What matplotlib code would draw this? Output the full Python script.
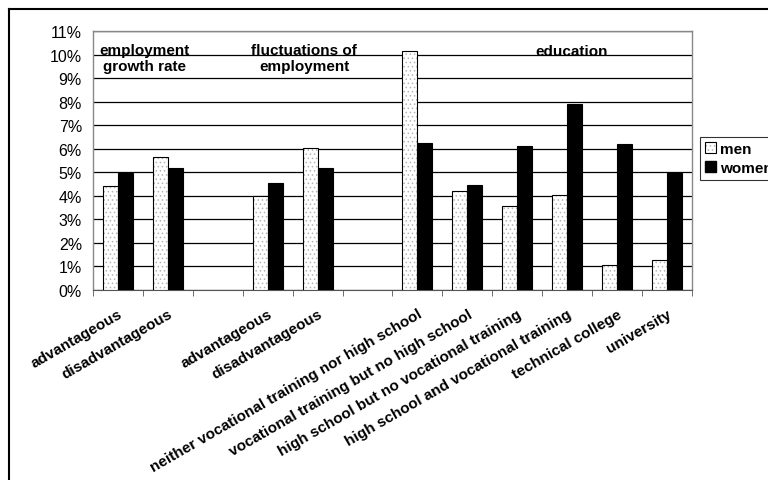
import matplotlib
matplotlib.use("Agg")
import matplotlib.pyplot as plt
import numpy as np
from matplotlib.patches import Rectangle
from matplotlib.lines import Line2D
from matplotlib.ticker import FixedLocator, PercentFormatter

plt.rcParams['font.family'] = ['Liberation Sans', 'DejaVu Sans']
plt.rcParams['hatch.linewidth'] = 0.6

categories = ["advantageous", "disadvantageous", "",
              "advantageous", "disadvantageous", "",
              "neither vocational training nor high school",
              "vocational training but no high school",
              "high school but no vocational training",
              "high school and vocational training",
              "technical college", "university"]
men = [4.40, 5.66, np.nan, 4.00, 6.01, np.nan, 10.15, 4.21, 3.55, 4.03, 1.08, 1.26]
women = [4.95, 5.18, np.nan, 4.54, 5.18, np.nan, 6.24, 4.46, 6.11, 7.92, 6.21, 4.99]
yticks = list(range(0, 12))
group_labels = ["employment\ngrowth rate", "fluctuations of\nemployment", "education"]

W, H = 768, 481
fig = plt.figure(figsize=(W / 100, H / 100), dpi=100)
ax = fig.add_axes([93 / W, 1 - 291 / H, (692 - 93) / W, (291 - 32) / H])

x = np.arange(len(categories))
bw = 0.3
# men: dotted fill, then black outline
ax.bar(x - bw / 2, men, bw, color='white', edgecolor='#b4b4b4', hatch='....', linewidth=0, zorder=3)
ax.bar(x - bw / 2, men, bw, fill=False, edgecolor='black', linewidth=0.8, zorder=4)
ax.bar(x + bw / 2, women, bw, color='black', edgecolor='black', linewidth=0.8, zorder=3)

ax.set_xlim(-0.5, len(categories) - 0.5)
ax.set_ylim(0, 11)
ax.yaxis.set_major_locator(FixedLocator(yticks))
ax.yaxis.set_major_formatter(PercentFormatter(decimals=0))
ax.tick_params(axis='y', length=0, labelsize=11.5, pad=8)
ax.grid(axis='y', color='black', linewidth=0.9, zorder=1)

ax.set_xticks(x)
ax.set_xticklabels(categories, rotation=30, ha='right', rotation_mode='anchor',
                   fontsize=11, fontweight='bold')
ax.tick_params(axis='x', which='major', length=0, pad=12)
ax.set_xticks(np.arange(-0.5, len(categories)), minor=True)
ax.tick_params(axis='x', which='minor', length=4, color='#555555', direction='out')

for s in ['left', 'top', 'right']:
    ax.spines[s].set_color('#888888')
    ax.spines[s].set_linewidth(1.0)
ax.spines['bottom'].set_color('#555555')

# group titles
ax.text(0.54, 9.87, group_labels[0], ha='center', va='center', fontsize=11,
        fontweight='bold', linespacing=1.2, zorder=5)
ax.text(3.73, 9.87, group_labels[1], ha='center', va='center', fontsize=11,
        fontweight='bold', linespacing=1.2, zorder=5)
ax.text(9.08, 10.15, group_labels[2], ha='center', va='center', fontsize=11,
        fontweight='bold', zorder=5)

# legend
h_men = (Rectangle((0, 0), 1, 1, facecolor='white', edgecolor='#b4b4b4', hatch='....', linewidth=0),
         Rectangle((0, 0), 1, 1, fill=False, edgecolor='black', linewidth=0.8))
h_women = Rectangle((0, 0), 1, 1, facecolor='black', edgecolor='black')
leg = fig.legend([h_men, h_women], ['men', 'women'], loc='upper left',
                 bbox_to_anchor=(700 / W, 1 - 138 / H), frameon=True, fancybox=False,
                 edgecolor='black', prop={'weight': 'bold', 'size': 11},
                 handlelength=0.75, handleheight=0.75, handletextpad=0.25,
                 borderpad=0.3, labelspacing=0.35, borderaxespad=0)
leg.get_frame().set_linewidth(0.8)

# outer chart frame (clipped at right/bottom)
fig.add_artist(Line2D([9 / W, 1.0], [1 - 10 / H, 1 - 10 / H], transform=fig.transFigure,
                      color='black', linewidth=1.5))
fig.add_artist(Line2D([9 / W, 9 / W], [0, 1 - 10 / H], transform=fig.transFigure,
                      color='black', linewidth=1.5))

fig.savefig('out.png', dpi=100)
